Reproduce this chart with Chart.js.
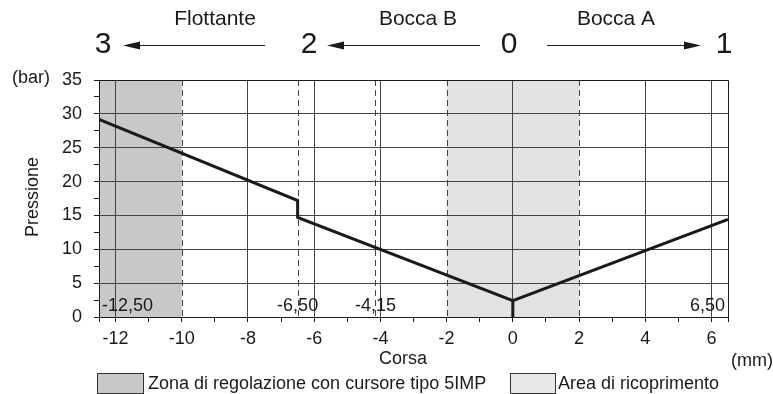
<!DOCTYPE html>
<html>
<head>
<meta charset="utf-8">
<script src="https://cdn.jsdelivr.net/npm/chart.js@4.4.1/dist/chart.umd.min.js"></script>
<style>
  html, body { margin: 0; padding: 0; background: #fff; }
  canvas { display: block; }
</style>
</head>
<body>
<canvas id="c" width="773" height="394"></canvas>
<script>
// ---- data ----
const lineX = [-12.5, -6.5, -6.5, 0, 6.5];
const lineY = [29.2, 17.2, 14.7, 2.4, 14.4];
const stubX = [0, 0];
const stubY = [0, 2.4];

const xTicks = [-12.5, -12, -11, -10, -9, -8, -7, -6, -5, -4, -3, -2, -1, 0, 1, 2, 3, 4, 5, 6, 6.5];
const xTickLabels = [-12, -10, -8, -6, -4, -2, 0, 2, 4, 6];
const xGridSolid = [-12, -8, -6, -4, 0, 4, 6];
const yTicks = [0, 2.5, 5, 7.5, 10, 12.5, 15, 17.5, 20, 22.5, 25, 27.5, 30, 32.5, 35];
const yTickLabels = [0, 5, 10, 15, 20, 25, 30, 35];
const yGridSolid = [5, 10, 15, 20, 25, 30];

const darkZone = [-12.5, -10];
const lightZone = [-2, 2];
const dashedX = [-10, -6.5, -4.15, -2, 2];
const markerLabels = ['-12,50', '-6,50', '-4,15', '6,50'];
const markerValues = [-12.5, -6.5, -4.15, 6.5];

const portLabels = ['Flottante', 'Bocca B', 'Bocca A'];
const portNumbers = ['3', '2', '0', '1'];
const legendLabels = ['Zona di regolazione con cursore tipo 5IMP', 'Area di ricoprimento'];

const FONT = '"Liberation Sans", Arial, Helvetica, sans-serif';
const INK = '#1a1a1a';

const overlay = {
  id: 'overlay',
  beforeDraw(chart) {
    const { ctx, chartArea: a, scales: { x } } = chart;
    ctx.save();
    ctx.fillStyle = '#fff';
    ctx.fillRect(0, 0, chart.width, chart.height);
    ctx.fillStyle = '#c8c8c8';
    const d0 = x.getPixelForValue(darkZone[0]), d1 = x.getPixelForValue(darkZone[1]);
    ctx.fillRect(d0, a.top, d1 - d0, a.bottom - a.top);
    ctx.fillStyle = '#e2e2e2';
    const l0 = x.getPixelForValue(lightZone[0]), l1 = x.getPixelForValue(lightZone[1]);
    ctx.fillRect(l0, a.top, l1 - l0, a.bottom - a.top);
    ctx.restore();
  },
  beforeDatasetsDraw(chart) {
    const { ctx, chartArea: a, scales: { x } } = chart;
    ctx.save();
    ctx.strokeStyle = '#444';
    ctx.lineWidth = 1;
    ctx.setLineDash([6, 4]);
    dashedX.forEach(v => {
      const px = Math.round(x.getPixelForValue(v)) + 0.5;
      ctx.beginPath();
      ctx.moveTo(px, a.top);
      ctx.lineTo(px, a.bottom);
      ctx.stroke();
    });
    ctx.setLineDash([]);
    // frame
    ctx.strokeStyle = INK;
    ctx.beginPath();
    ctx.moveTo(a.left + 0.5, a.bottom);
    ctx.lineTo(a.left + 0.5, a.top + 0.5);
    ctx.lineTo(a.right + 0.5, a.top + 0.5);
    ctx.lineTo(a.right + 0.5, a.bottom + 5);
    ctx.stroke();

    // marker labels
    ctx.fillStyle = INK;
    ctx.font = '18px ' + FONT;
    ctx.textBaseline = 'middle';
    markerLabels.forEach((t, i) => {
      const px = x.getPixelForValue(markerValues[i]);
      if (i === 0) { ctx.textAlign = 'left'; ctx.fillText(t, px + 3, 306); }
      else if (i === markerLabels.length - 1) { ctx.textAlign = 'right'; ctx.fillText(t, px - 3, 306); }
      else { ctx.textAlign = 'center'; ctx.fillText(t, px, 306); }
    });
    ctx.restore();
  },
  afterDraw(chart) {
    const { ctx } = chart;
    ctx.save();
    ctx.fillStyle = INK;
    ctx.strokeStyle = INK;
    ctx.font = '18px ' + FONT;
    ctx.textBaseline = 'middle';
    ctx.textAlign = 'left';
    ctx.fillText('(bar)', 12, 78);
    ctx.textAlign = 'center';
    ctx.fillText('Corsa', 403, 359);
    ctx.textAlign = 'right';
    ctx.fillText('(mm)', 773, 361);
    ctx.save();
    ctx.translate(33, 197);
    ctx.rotate(-Math.PI / 2);
    ctx.textAlign = 'center';
    ctx.fillText('Pressione', 0, 0);
    ctx.restore();

    // port labels
    ctx.font = '21px ' + FONT;
    ctx.textAlign = 'center';
    const portX = [215, 418, 616];
    portLabels.forEach((t, i) => ctx.fillText(t, portX[i], 19));
    ctx.font = '30px ' + FONT;
    const numX = [103, 309, 509, 724];
    portNumbers.forEach((t, i) => ctx.fillText(t, numX[i], 45));

    // arrows
    const arrows = [[265, 123], [480, 327], [547, 701]];
    ctx.lineWidth = 1;
    arrows.forEach(([from, tip]) => {
      const dir = tip > from ? 1 : -1;
      ctx.beginPath();
      ctx.moveTo(from, 45.5);
      ctx.lineTo(tip - dir * 14, 45.5);
      ctx.stroke();
      ctx.beginPath();
      ctx.moveTo(tip, 45.5);
      ctx.lineTo(tip - dir * 17, 41.5);
      ctx.lineTo(tip - dir * 17, 49.5);
      ctx.closePath();
      ctx.fill();
    });

    // legend
    ctx.lineWidth = 1;
    ctx.font = '18px ' + FONT;
    ctx.textAlign = 'left';
    ctx.fillStyle = '#c8c8c8';
    ctx.fillRect(97.5, 373.5, 46, 20);
    ctx.strokeStyle = '#333';
    ctx.strokeRect(97.5, 373.5, 46, 20);
    ctx.fillStyle = '#e8e8e8';
    ctx.fillRect(510.5, 373.5, 45, 20);
    ctx.strokeRect(510.5, 373.5, 45, 20);
    ctx.fillStyle = INK;
    ctx.fillText(legendLabels[0], 148, 384);
    ctx.fillText(legendLabels[1], 558, 384);
    ctx.restore();
  }
};

new Chart(document.getElementById('c'), {
  type: 'line',
  data: {
    datasets: [
      {
        data: lineX.map((v, i) => ({ x: v, y: lineY[i] })),
        borderColor: INK, borderWidth: 3, pointRadius: 0, tension: 0,
        fill: false, borderJoinStyle: 'miter'
      },
      {
        data: stubX.map((v, i) => ({ x: v, y: stubY[i] })),
        borderColor: INK, borderWidth: 3, pointRadius: 0, tension: 0, fill: false
      }
    ]
  },
  options: {
    responsive: false,
    animation: false,
    devicePixelRatio: 1,
    layout: { padding: { top: 80, right: 45, left: 0, bottom: 0 } },
    plugins: { legend: { display: false }, tooltip: { enabled: false } },
    scales: {
      x: {
        type: 'linear', min: -12.5, max: 6.5,
        afterBuildTicks: s => { s.ticks = xTicks.map(v => ({ value: v })); },
        afterFit: s => { s.height = 77; },
        ticks: {
          autoSkip: false, maxRotation: 0, padding: 6, color: INK,
          font: { family: FONT, size: 18 },
          callback: v => xTickLabels.includes(v) ? String(v) : ''
        },
        grid: {
          color: c => xGridSolid.includes(c.tick && c.tick.value) ? '#444' : 'rgba(0,0,0,0)',
          tickColor: INK, tickLength: 5, lineWidth: 1
        },
        border: { display: true, color: INK, width: 1 }
      },
      y: {
        type: 'linear', min: 0, max: 35,
        afterBuildTicks: s => { s.ticks = yTicks.map(v => ({ value: v })); },
        afterFit: s => { s.width = 99; },
        ticks: {
          autoSkip: false, padding: 12, color: INK,
          font: { family: FONT, size: 18 },
          callback: v => yTickLabels.includes(v) ? String(v) : ''
        },
        grid: {
          color: c => yGridSolid.includes(c.tick && c.tick.value) ? '#444' : 'rgba(0,0,0,0)',
          tickColor: INK, tickLength: 5, lineWidth: 1
        },
        border: { display: true, color: INK, width: 1 }
      }
    }
  },
  plugins: [overlay]
});
</script>
</body>
</html>
